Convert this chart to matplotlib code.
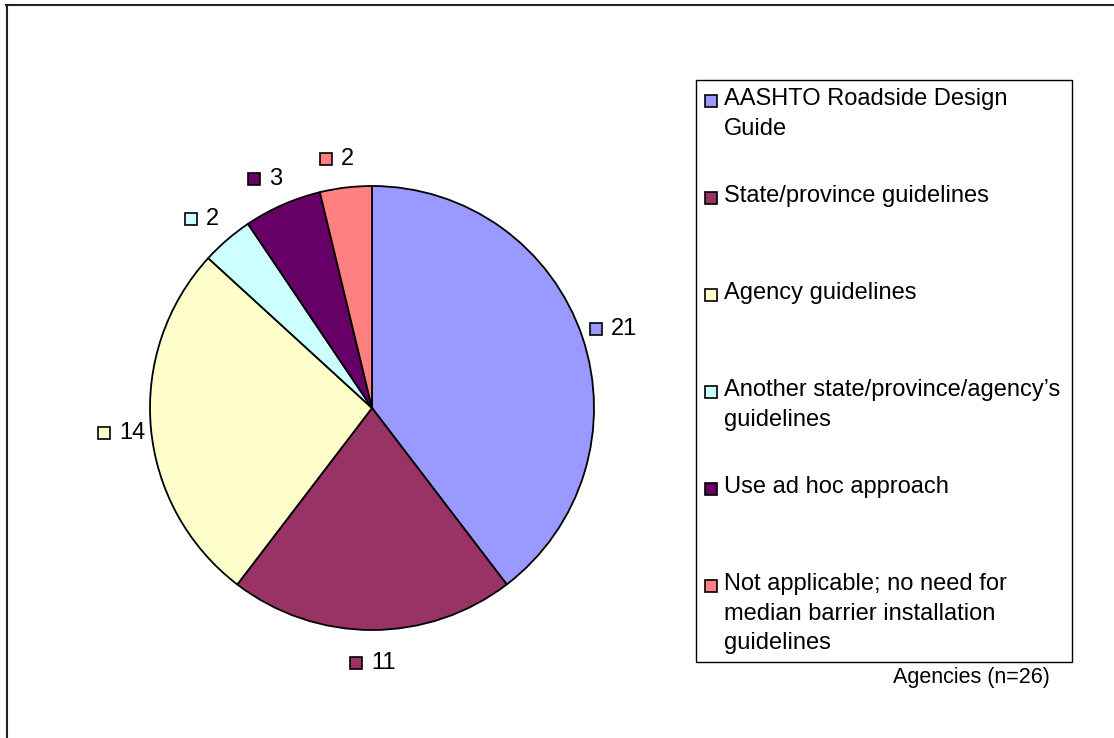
import numpy as np
import matplotlib
matplotlib.use('Agg')
import matplotlib.pyplot as plt
import matplotlib.transforms as mtransforms
from matplotlib.patches import Rectangle
from matplotlib.lines import Line2D

categories = ["AASHTO Roadside Design\nGuide",
              "State/province guidelines",
              "Agency guidelines",
              "Another state/province/agency\u2019s\nguidelines",
              "Use ad hoc approach",
              "Not applicable; no need for\nmedian barrier installation\nguidelines"]
values = [21, 11, 14, 2, 3, 2]
colors = ["#9999FF", "#993366", "#FFFFCC", "#CCFFFF", "#660066", "#FF8080"]
note = "Agencies (n=26)"

plt.rcParams['font.family'] = ['Liberation Sans', 'DejaVu Sans']

W, H = 1114, 738
fig = plt.figure(figsize=(W / 100, H / 100), dpi=100)

# pie centre (372, 408) px, radius 222 px
cx, cy, R = 372, 408, 222
half = 300
ax = fig.add_axes([(cx - half) / W, (H - cy - half) / H, 2 * half / W, 2 * half / H])
lim = half / R
ax.axis('off')

wedges, _ = ax.pie(values, colors=colors, startangle=90, counterclock=False,
                   radius=1.0, wedgeprops=dict(edgecolor='black', linewidth=1.3))
ax.set_xlim(-lim, lim)
ax.set_ylim(-lim, lim)
ax.set_aspect('equal')

# data labels: small square + number
shift = ax.transData + mtransforms.ScaledTranslation(-11.5 / 72, 0, fig.dpi_scale_trans)
total = sum(values)
start = 90.0
for v, c in zip(values, colors):
    sweep = v / total * 360
    mid = np.deg2rad(start - sweep / 2)
    start -= sweep
    r = 1.14
    x, y = r * np.cos(mid), r * np.sin(mid) - 0.01
    ax.plot([x], [y], marker='s', markersize=9, markerfacecolor=c,
            markeredgecolor='black', markeredgewidth=1.2, clip_on=False,
            transform=shift)
    ax.annotate(str(v), (x, y), xytext=(-0.7, 0), textcoords='offset points',
                ha='left', va='center', fontsize=17)

# legend box
lx0, lx1, ly0, ly1 = 696, 1072, 80, 662
fig.patches.append(Rectangle((lx0 / W, 1 - ly1 / H), (lx1 - lx0) / W, (ly1 - ly0) / H,
                             transform=fig.transFigure, facecolor='white',
                             edgecolor='black', linewidth=1.0))
for i, (lab, c) in enumerate(zip(categories, colors)):
    ty = 101 + 97 * i
    fig.patches.append(Rectangle((705 / W, 1 - (ty + 6) / H), 12 / W, 12 / H,
                                 transform=fig.transFigure, facecolor=c,
                                 edgecolor='black', linewidth=1.2))
    fig.text(724 / W, 1 - (ty - 13) / H, lab, ha='left', va='top',
             fontsize=17, linespacing=1.45)

fig.text(1050 / W, 1 - 677 / H, note, ha='right', va='center', fontsize=15.5)

# outer frame (top and left edges)
fig.lines.append(Line2D([6 / W, 1], [1 - 5 / H, 1 - 5 / H], transform=fig.transFigure,
                        color='#222222', linewidth=1.5))
fig.lines.append(Line2D([7 / W, 7 / W], [0, 1 - 5 / H], transform=fig.transFigure,
                        color='#222222', linewidth=1.5))

fig.savefig('out.png', dpi=100)
